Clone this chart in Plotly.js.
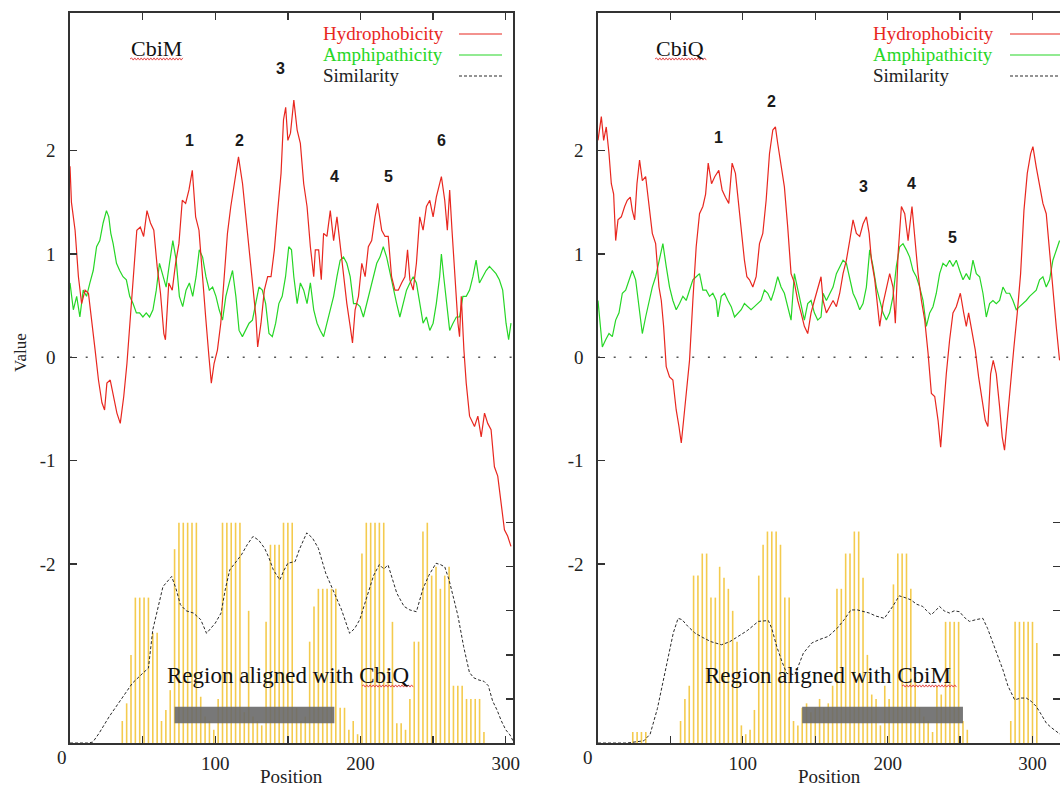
<!DOCTYPE html>
<html>
<head>
<meta charset="utf-8">
<script src="https://cdn.plot.ly/plotly-3.0.1.min.js"></script>
<style>html,body{margin:0;padding:0;background:#fff;}#chart{width:1060px;height:786px;}</style>
</head>
<body>
<div id="chart"></div>
<script>
// ---------------- DATA ----------------
// Left panel: CbiM
const leftHydPos = [0,1,3.5,5.8,8,10.4,12.7,15,17.3,19.6,22,23.8,25.4,27.7,30,32.3,34.6,37,39.2,41.5,43.8,46,48.4,50.7,53,55.4,57.7,60,62.3,64.6,65.7,68,70.4,72.7,75,77.3,79.6,81.9,84.2,86.5,88.8,91.1,93.4,95.7,97.3,99.2,101.5,103.8,106.1,108.4,110.7,113,116,118.8,121.1,123.4,125.7,128,129.2,131.5,133.8,136.1,138.4,140.7,143,145.3,147,148.5,150,151.8,154.1,156.4,158.6,160.9,163.2,165.5,167.8,168.9,171.2,173,174.6,176.9,179.2,181.5,183.8,186,188.3,190.6,192.9,194.5,196.3,198.6,200.9,203.2,205.4,207.7,210,211.8,214.6,216.9,219.1,221.4,223.7,226,228.3,230.6,232.4,234,236.3,238.5,240.8,243.1,245.4,247.7,250,252.2,255.7,258,259.8,261.4,263,264.8,267.1,268.2,269.4,271.2,272.8,275.1,278.5,280.8,283.1,285.4,287.6,289.9,292.2,294.5,296.8,299.1,301.3,303.6];
const leftHydVal = [1.85,1.5,1.23,0.78,0.52,0.65,0.62,0.36,0.07,-0.22,-0.44,-0.51,-0.25,-0.22,-0.38,-0.54,-0.64,-0.38,-0.06,0.39,0.78,1.23,1.26,1.17,1.42,1.3,1.23,0.88,0.62,0.23,0.17,0.72,0.65,0.91,1.1,1.52,1.49,1.62,1.81,1.36,1.23,0.78,0.39,0.0,-0.25,-0.06,0.07,0.33,0.78,1.2,1.46,1.65,1.94,1.68,1.36,1.1,0.78,0.39,0.1,0.33,0.65,0.78,0.78,1.04,1.42,1.78,2.3,2.42,2.1,2.17,2.49,2.2,2.07,1.68,1.46,1.07,0.78,1.04,1.04,0.75,1.2,1.17,1.42,1.13,1.36,1.07,0.78,0.52,0.3,0.14,0.46,0.59,0.91,0.78,1.07,1.13,1.36,1.49,1.23,1.17,1.17,0.78,0.65,0.65,0.72,0.78,1.04,0.75,0.65,0.91,1.36,1.23,1.46,1.52,1.36,1.55,1.75,1.52,1.23,1.62,1.23,0.81,0.33,0.2,0.59,0.07,-0.25,-0.57,-0.67,-0.57,-0.77,-0.54,-0.64,-0.7,-1.06,-1.15,-1.44,-1.67,-1.73,-1.83];

const leftAmpPos = [0,2.3,4.6,6.8,9.1,11.4,13.7,16,18.3,20.5,22.8,25.1,26.7,28.1,29.7,32,34.2,36.5,38.8,41.1,43.4,45.7,47.9,50.2,52.5,54.8,57.1,59.4,61.6,63.9,66.2,68.5,70.8,73.1,75.3,77.6,79.9,82.2,84.5,86.8,89,91.3,93.6,95.9,98.2,100.5,102.7,105,107.3,109.6,111.9,114.2,116.4,118.7,121,123.3,125.6,127.9,130.1,132.4,134.7,137,139.3,141.6,143.8,146.1,148.4,150.6,152.5,154.1,156.4,158.6,160.9,163.2,165.5,167.8,170.1,172.3,174.6,176.9,179.2,181.5,183.8,186,188.3,190.6,192.9,195.2,197.5,199.7,202,204.3,206.6,208.9,211.2,213.4,215.7,218,220.3,222.6,224.9,227.1,229.4,231.7,234,236.3,238.5,240.8,243.1,245.4,247.7,250,252.2,254.5,255.7,257.3,259.1,261.4,263.7,266,268.2,270.5,272.8,275.1,277.4,279.6,281.9,284.2,286.5,288.8,291.1,293.3,295.6,297.9,300.2,302,303.6];
const leftAmpVal = [0.72,0.46,0.59,0.39,0.65,0.59,0.72,0.84,1.07,1.13,1.3,1.42,1.36,1.2,1.1,0.91,0.84,0.78,0.75,0.59,0.52,0.43,0.43,0.39,0.43,0.39,0.46,0.65,0.91,0.78,0.68,0.91,1.13,0.94,0.59,0.49,0.65,0.72,0.59,0.78,1.04,0.97,0.78,0.65,0.68,0.59,0.46,0.36,0.59,0.72,0.84,0.59,0.26,0.2,0.26,0.33,0.36,0.52,0.68,0.65,0.52,0.23,0.2,0.33,0.52,0.59,0.78,1.07,1.04,0.78,0.52,0.72,0.65,0.52,0.72,0.46,0.33,0.26,0.2,0.33,0.46,0.59,0.78,0.94,0.97,0.91,0.78,0.52,0.52,0.49,0.39,0.52,0.65,0.78,0.91,0.97,1.07,0.97,0.81,0.65,0.52,0.39,0.52,0.65,0.72,0.78,0.72,0.52,0.33,0.39,0.26,0.33,0.52,0.78,1.0,0.78,0.52,0.26,0.33,0.39,0.39,0.59,0.59,0.65,0.78,0.94,0.72,0.78,0.84,0.88,0.84,0.81,0.75,0.65,0.33,0.17,0.33];

const leftSimPos = [0,12,15.7,20,27,36.5,43,50,54,57,64,70,73,76,80,85,90,94,97,100,104,107,110,114,118,122,126,130,134,137,140,144.5,147,150,155,158,163,167,171,176,181,187,192.5,196,199.5,205,209,213,216,219,222,225,230,234,238.5,243,247,252,255,258,261,264,267,271,275,278,281.5,285,288,291,294,297,300,303,305];
const leftSimVal = [0,0,0.02,0.22,0.6,1.05,1.36,1.58,1.7,2.57,3.55,3.78,3.5,3.14,3.0,2.95,2.8,2.49,2.6,2.72,2.95,3.5,3.93,4.1,4.27,4.5,4.69,4.6,4.42,4.2,3.93,3.7,3.9,4.08,4.12,4.4,4.77,4.65,4.42,3.86,3.47,3.02,2.49,2.6,2.8,3.4,3.8,4.05,3.95,4.04,3.7,3.4,3.1,3.02,2.98,3.5,3.8,4.08,4.05,4.0,3.7,3.32,2.9,2.19,1.6,1.48,1.43,1.4,1.3,0.95,0.75,0.5,0.3,0.18,0.05];

const leftBarPos = [36,39,42,45,48,51,54,57,60,63,66,69,72,75,78,81,84,87,90,93,96,99,102,105,108,111,114,117,120,123,126,129,132,135,138,141,144,147,150,153,156,159,162,165,168,171,174,177,180,183,186,189,192,195,198,201,204,207,210,213,216,219,222,225,228,231,234,237,240,243,246,249,252,255,258,261,264,267,270,273,276,279,282,285];
const leftBarVal = [0.5,0.9,2.0,3.3,3.3,3.3,3.3,2.5,2.5,0.5,0.75,1.2,4.4,5,5,5,5,5,1.05,0.6,0.5,0.3,1.0,5,5,5,5,5,0.7,3.0,0.6,0.5,0.4,2.75,4.5,4.5,4.5,5,5,5,0.8,0.5,0.6,2.3,3.1,3.5,3.5,3.5,3.5,3.5,0.8,0.8,0.3,0.5,0.2,4.3,5,5,5,5,5,1.7,2.75,0.45,0.45,0.3,1.0,2.3,2.3,4.8,5,3.8,4.0,3.5,3.8,4.0,1.3,1.3,1.3,1.0,1.0,1.0,1.0,0.25];

const leftRegion = [72, 182];
const leftPeakLabels = ['1','2','3','4','5','6'];
const leftPeakX = [82, 117, 145, 182, 219, 256];
const leftPeakY = [2.1, 2.1, 2.8, 1.75, 1.75, 2.1];

// Right panel: CbiQ
const rightHydPos = [0,2.3,3.9,5.7,7.6,9.2,10.8,12.2,13.8,16.1,18.4,20.2,22.3,23.7,25.3,26.9,28.7,30.6,32.9,35.2,37.5,39.8,42.1,43.7,45.3,47.1,49.4,51.7,54,55.9,57.5,59.1,60.9,63.2,65.5,67.8,70.1,72.4,74.3,76.1,78.4,80.7,83.4,85.7,88,90.3,92.6,94.9,96.6,98.9,101.1,102.8,104.6,106.9,109.2,111.5,113.8,116.1,118.4,120.7,122.5,124.1,126.4,128.7,131,133.3,135.6,137.9,140.2,142.5,144.8,147.1,149.4,151.7,154,155.4,157.7,160,162.3,164.6,166.9,169.2,171.5,173.8,176.1,178.4,180.7,183,185.3,187.2,188.8,191.1,193.4,194.5,196.8,199.1,201.4,203.7,205.3,207.2,209.5,211.8,214.1,216.8,218.7,221,223.3,225.6,227.9,230.2,232.5,234.8,236.6,238.2,240.5,242.8,245.1,247.4,250.2,252.5,254.3,255.9,258.2,260.5,262.8,265.1,267.4,269.2,271.1,272.9,275,277.3,279.1,280.7,282.6,284.9,287.2,289.5,291.8,294.1,296.4,298.7,300.3,302.6,304.9,307.2,309.5,311.8,314.1,316.4,318.7];
const rightHydVal = [2.1,2.33,2.1,2.23,1.97,1.68,1.58,1.13,1.33,1.36,1.46,1.52,1.55,1.42,1.33,1.68,1.91,1.71,1.75,1.49,1.2,1.1,0.68,0.55,0.3,-0.09,-0.19,-0.22,-0.51,-0.67,-0.83,-0.61,-0.35,-0.03,0.55,1.07,1.39,1.46,1.58,1.88,1.68,1.75,1.81,1.62,1.55,1.49,1.88,1.78,1.55,1.2,0.94,0.78,0.75,0.68,0.78,1.1,1.2,1.52,1.97,2.2,2.23,2.07,1.88,1.65,1.26,0.81,0.72,0.55,0.43,0.3,0.23,0.43,0.55,0.68,0.78,0.55,0.43,0.49,0.55,0.49,0.62,0.81,0.94,1.13,1.33,1.2,1.17,1.29,1.36,1.2,0.94,0.75,0.43,0.3,0.52,0.68,0.81,0.68,0.33,1.0,1.46,1.39,1.13,1.46,1.13,0.81,0.55,0.36,0.04,-0.35,-0.38,-0.61,-0.87,-0.54,-0.16,0.17,0.43,0.49,0.62,0.43,0.3,0.43,0.23,0.07,-0.19,-0.41,-0.61,-0.67,-0.16,-0.03,-0.16,-0.48,-0.77,-0.9,-0.61,-0.19,0.1,0.43,0.81,1.42,1.78,1.97,2.04,1.84,1.68,1.49,1.39,1.0,0.68,0.3,-0.03];

const rightAmpPos = [0,3,5.3,7.6,9.9,12.2,14.5,16.8,19.1,21.4,23.7,26,28.3,30.6,32.9,35.2,37.5,39.8,42.1,44.8,47.1,49.4,51.7,54,56.3,58.6,60.9,63.2,65.5,67.8,70.1,72.4,74.7,77,79.3,81.6,82.8,85.1,87.4,89.7,92,94.3,96.6,98.9,101.1,103.4,105.7,108,110.3,112.6,114.9,117.2,119.5,121.8,124.1,126.4,128.7,131,133.3,135.6,137.9,140.2,142.5,144.8,147.1,149.4,151.7,154,155.4,157.7,160,162.3,164.6,166.9,169.2,171.5,173.8,176.1,178.4,180.7,183,185.3,187.6,189.9,192.2,194.5,196.8,199.1,201.4,203.7,206,208.3,210.6,212.9,215.2,217.5,219.8,222.1,224.4,226.7,229,231.3,233.6,235.9,238.2,240.5,242.8,245.1,247.4,249.7,252,254.3,256.6,258.9,261.2,263.5,265.8,268.1,270.4,272.7,275,277.3,279.6,281.9,284.2,286.5,288.8,291.1,293.4,295.7,298,300.3,302.6,304.9,307.2,309.5,311.8,314.1,316.4,318.7];
const rightAmpVal = [0.55,0.1,0.17,0.23,0.2,0.36,0.43,0.62,0.65,0.75,0.84,0.75,0.49,0.23,0.39,0.55,0.68,0.78,0.94,1.1,0.88,0.68,0.55,0.46,0.52,0.59,0.55,0.65,0.75,0.78,0.81,0.65,0.65,0.59,0.62,0.55,0.39,0.59,0.62,0.55,0.49,0.39,0.43,0.46,0.52,0.49,0.46,0.49,0.52,0.55,0.65,0.62,0.55,0.65,0.78,0.68,0.62,0.49,0.36,0.81,0.65,0.49,0.36,0.52,0.55,0.43,0.36,0.39,0.62,0.55,0.62,0.68,0.81,0.88,0.94,0.91,0.75,0.62,0.55,0.46,0.52,0.68,1.04,0.88,0.68,0.55,0.43,0.36,0.43,0.59,0.88,1.07,1.1,1.04,0.97,0.84,0.78,0.68,0.55,0.3,0.43,0.49,0.62,0.81,0.91,0.88,0.94,0.88,0.94,0.84,0.75,0.81,0.75,0.94,0.81,0.78,0.62,0.39,0.52,0.55,0.52,0.55,0.68,0.62,0.62,0.55,0.46,0.49,0.52,0.55,0.59,0.62,0.65,0.75,0.78,0.68,0.75,0.94,1.04,1.13];

const rightSimPos = [0,20,31.6,36,41,48,52,55.3,58,62,66.8,72,78,85.3,91,96.8,103,110.7,117.6,120,123.4,127,130.3,136,141.8,147.6,153,159,165,170,174.6,179.2,183,187.3,192,197.7,203.5,208,212,216,220,224.2,227,230,233,235.8,239,242.7,246,249.6,253,256.5,261,265.7,269,272.7,276,279.6,283,287.7,292,295.7,299,302.6,306,309.6,313,316.5,319];
const rightSimVal = [0,0,0.05,0.2,0.78,1.88,2.5,2.83,2.8,2.65,2.5,2.4,2.3,2.23,2.3,2.42,2.55,2.76,2.78,2.6,2.19,1.85,1.58,1.55,2.04,2.27,2.35,2.42,2.6,2.8,3.02,3.02,2.98,2.95,2.88,2.83,3.1,3.34,3.3,3.25,3.15,3.1,3.0,2.91,3.0,3.1,3.0,2.95,3.0,2.98,2.85,2.76,2.8,2.83,2.6,2.27,1.95,1.66,1.3,0.98,1.02,1.02,0.95,0.83,0.65,0.45,0.35,0.26,0.2];

const rightBarPos = [24,27,30,33,36,39,42,45,48,51,54,57,60,63,66,69,72,75,78,81,84,87,90,93,96,99,102,105,108,111,114,117,120,123,126,129,132,135,138,141,144,147,150,153,156,159,162,165,168,171,174,177,180,183,186,189,192,195,198,201,204,207,210,213,216,219,222,225,228,231,234,237,240,243,246,249,252,255,258,261,264,267,270,273,276,279,282,285,288,291,294,297,300,303,306];
const rightBarVal = [0.25,0.25,0.25,0.25,0,0,0,0,0,0,0,0.5,1.0,1.3,3.8,3.8,4.3,4.3,3.3,3.3,4.0,3.75,3.5,3.0,2.3,0.4,0.2,0.3,0.75,3.8,4.5,4.8,4.8,4.8,4.5,3.3,3.3,0.5,0.4,0.8,0.9,0.7,0.8,1.0,0.8,0.9,1.3,3.5,3.5,4.3,4.3,4.8,4.8,3.75,2.0,1.1,1.0,0.4,1.3,1.0,3.6,4.3,4.3,4.3,3.5,1.5,0.8,0.6,0.5,0.25,1.3,1.1,2.75,2.75,2.75,2.75,0.5,0.3,0,0,0,0,0,0,0,0,0,0.5,2.75,2.75,2.75,2.75,2.75,2.27,0];

const rightRegion = [141, 252];
const rightPeakLabels = ['1','2','3','4','5'];
const rightPeakX = [83.5, 120, 183.5, 216.5, 245];
const rightPeakY = [2.13, 2.48, 1.65, 1.68, 1.16];

const xTickVals = [0,50,100,150,200,250,300];
const xTickText = ['','','100','','200','','300'];
const yTickVals = [-2,-1,0,1,2];
const yTickText = ['-2','-1','0','1','2'];
const simTickVals = [1,2,3,4,5];

// ---------------- STYLE / LAYOUT ----------------
const W = 1060, H = 786;
const fx = x => x / W;
const fy = y => 1 - y / H;
const RED = '#e8271f', GREEN = '#26d626', BAR = 'rgb(244,203,78)', DASH = '#2a2a2a';
const SERIF = 'Liberation Serif, Times New Roman, serif';
const SANS = 'Liberation Sans, Arial, sans-serif';

const Y_RANGE = [-3.734, 3.333];
const SIM_RANGE = [0, 16.57];
const yDom = [fy(743), fy(13)];

const traces = [
  {type:'bar', x:leftBarPos, y:leftBarVal, xaxis:'x', yaxis:'y2', width:1.1, marker:{color:BAR, line:{width:0}}, hoverinfo:'skip'},
  {type:'scatter', mode:'lines', x:leftSimPos, y:leftSimVal, xaxis:'x', yaxis:'y2', line:{color:DASH, width:1, dash:'3px,2px'}},
  {type:'scatter', mode:'lines', x:leftAmpPos, y:leftAmpVal, xaxis:'x', yaxis:'y', line:{color:GREEN, width:1.2}},
  {type:'scatter', mode:'lines', x:leftHydPos, y:leftHydVal, xaxis:'x', yaxis:'y', line:{color:RED, width:1.2}},
  {type:'bar', x:rightBarPos, y:rightBarVal, xaxis:'x2', yaxis:'y4', width:1.1, marker:{color:BAR, line:{width:0}}, hoverinfo:'skip'},
  {type:'scatter', mode:'lines', x:rightSimPos, y:rightSimVal, xaxis:'x2', yaxis:'y4', line:{color:DASH, width:1, dash:'3px,2px'}},
  {type:'scatter', mode:'lines', x:rightAmpPos, y:rightAmpVal, xaxis:'x2', yaxis:'y3', line:{color:GREEN, width:1.2}},
  {type:'scatter', mode:'lines', x:rightHydPos, y:rightHydVal, xaxis:'x2', yaxis:'y3', line:{color:RED, width:1.2}}
];

const tickFont = {family:SERIF, size:19, color:'#222'};
function xAx(dom, range, anchor){
  return {domain:dom, range:range, anchor:anchor, tickvals:xTickVals, ticktext:xTickText, ticks:'inside', ticklen:7, tickwidth:1.3, tickcolor:'#333',
    showline:true, linecolor:'#333', linewidth:1.6, mirror:'ticks', showgrid:false, zeroline:false, tickfont:tickFont, ticklabelstandoff:3, fixedrange:true};
}
function yAx(anchor){
  return {domain:yDom, range:Y_RANGE, anchor:anchor, tickvals:yTickVals, ticktext:yTickText, ticks:'inside', ticklen:7, tickwidth:1.3, tickcolor:'#333',
    showline:true, linecolor:'#333', linewidth:1.6, mirror:true, showgrid:false, zeroline:false, tickfont:tickFont, ticklabelstandoff:9, fixedrange:true};
}
function simAx(over, anchor){
  return {overlaying:over, anchor:anchor, side:'right', range:SIM_RANGE, tickvals:simTickVals, ticks:'inside', ticklen:7, tickwidth:1.3, tickcolor:'#333',
    showticklabels:false, showline:false, showgrid:false, zeroline:false, fixedrange:true};
}

function ann(text, x, y, font, xanchor, extra){
  return Object.assign({text:text, xref:'paper', yref:'paper', x:fx(x), y:fy(y), showarrow:false, xanchor:xanchor||'left', yanchor:'middle', font:font}, extra||{});
}
function squiggle(x0, x1, y){
  let d = 'M' + fx(x0) + ',' + fy(y);
  let up = true;
  for (let x = x0 + 1.6; x <= x1; x += 1.6){ d += ' L' + fx(x) + ',' + fy(y + (up ? -1.1 : 1.1)); up = !up; }
  return {type:'path', xref:'paper', yref:'paper', path:d, line:{color:'#e03a3a', width:0.9}, layer:'above'};
}
function legendLine(x0, x1, y, color, dash){
  return {type:'line', xref:'paper', yref:'paper', x0:fx(x0), x1:fx(x1), y0:fy(y), y1:fy(y), line:{color:color, width:1.2, dash:dash||'solid'}};
}

const annotations = [];
annotations.push(ann('Position', 291, 776, {family:SERIF, size:19, color:'#222'}, 'center'));
annotations.push(ann('Position', 829, 776, {family:SERIF, size:19, color:'#222'}, 'center'));
annotations.push(ann('Value', 20, 353, {family:SERIF, size:17, color:'#222'}, 'center', {textangle:-90}));
annotations.push(ann('0', 62, 757, tickFont, 'center'));
annotations.push(ann('0', 588, 757, tickFont, 'center'));
[['Hydrophobicity', RED, 33], ['Amphipathicity', GREEN, 54], ['Similarity', '#222', 75]].forEach(function(l){
  annotations.push(ann(l[0], 321, l[2], {family:SERIF, size:19, color:l[1]}, 'left'));
  annotations.push(ann(l[0], 871, l[2], {family:SERIF, size:19, color:l[1]}, 'left'));
});
annotations.push(ann('CbiM', 129, 49, {family:SERIF, size:22, color:'#111'}, 'left'));
annotations.push(ann('CbiQ', 654, 49, {family:SERIF, size:22, color:'#111'}, 'left'));
annotations.push(ann('Region aligned with CbiQ', 165, 675, {family:SERIF, size:23, color:'#111'}, 'left'));
annotations.push(ann('Region aligned with CbiM', 703, 675, {family:SERIF, size:23, color:'#111'}, 'left'));
leftPeakLabels.forEach(function(t, i){
  annotations.push({text:'<b>' + t + '</b>', xref:'x', yref:'y', x:leftPeakX[i], y:leftPeakY[i], showarrow:false, font:{family:SANS, size:16, color:'#1a1a1a'}});
});
rightPeakLabels.forEach(function(t, i){
  annotations.push({text:'<b>' + t + '</b>', xref:'x2', yref:'y3', x:rightPeakX[i], y:rightPeakY[i], showarrow:false, font:{family:SANS, size:16, color:'#1a1a1a'}});
});

const shapes = [
  {type:'line', xref:'x', yref:'y', x0:0, x1:305, y0:0, y1:0, line:{color:'#555', width:1.5, dash:'2px,13.7px'}, layer:'below'},
  {type:'line', xref:'x2', yref:'y3', x0:0, x1:319, y0:0, y1:0, line:{color:'#555', width:1.5, dash:'2px,13.7px'}, layer:'below'},
  {type:'rect', xref:'x', yref:'y2', x0:leftRegion[0], x1:leftRegion[1], y0:0.45, y1:0.82, fillcolor:'rgba(105,105,105,0.9)', line:{width:0}, layer:'above'},
  {type:'rect', xref:'x2', yref:'y4', x0:rightRegion[0], x1:rightRegion[1], y0:0.45, y1:0.82, fillcolor:'rgba(105,105,105,0.9)', line:{width:0}, layer:'above'},
  legendLine(459, 502, 34, RED), legendLine(459, 502, 55, GREEN), legendLine(459, 502, 76, DASH, '3px,2px'),
  legendLine(1010, 1060, 34, RED), legendLine(1010, 1060, 55, GREEN), legendLine(1010, 1060, 76, DASH, '3px,2px'),
  squiggle(130, 183, 59), squiggle(655, 707, 59), squiggle(362, 414, 686), squiggle(902, 958, 686)
];

const layout = {
  width:W, height:H, margin:{l:0, r:0, t:0, b:0, pad:0},
  paper_bgcolor:'#fff', plot_bgcolor:'rgba(0,0,0,0)', showlegend:false, hovermode:false,
  xaxis: xAx([fx(70), fx(513)], [0, 305], 'y'),
  yaxis: yAx('x'),
  yaxis2: simAx('y', 'x'),
  xaxis2: xAx([fx(598), 1], [0, 319], 'y3'),
  yaxis3: yAx('x2'),
  yaxis4: simAx('y3', 'x2'),
  annotations: annotations,
  shapes: shapes
};

Plotly.newPlot('chart', traces, layout, {displayModeBar:false, staticPlot:true});
</script>
</body>
</html>
